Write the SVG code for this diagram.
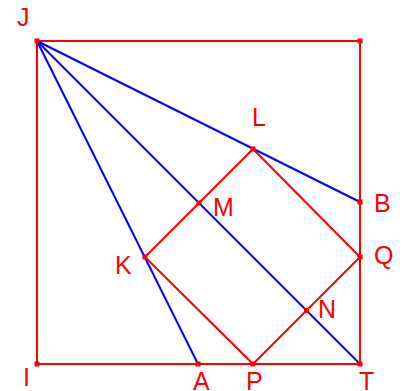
<svg xmlns="http://www.w3.org/2000/svg" width="404" height="391" viewBox="0 0 404 391">
<style>
.r{stroke:#ff0000;stroke-width:2;fill:none}
.b{stroke:#0000ff;stroke-width:2;fill:none}
.pt{fill:#ff0000}
text{font-family:"Liberation Sans",Arial,sans-serif;font-size:25px;fill:#ff0000}
</style>
<rect width="404" height="391" fill="#ffffff"/>
<g id="connectors">
<path class="r" d="M37,41 L360,41 L360,364 L37,364 Z"/>
<line class="b" x1="37" y1="41" x2="198" y2="364"/>
<line class="b" x1="37" y1="41" x2="360" y2="364"/>
<line class="b" x1="37" y1="41" x2="360" y2="202"/>
<path class="r" d="M145,257 L253,149 L360,257 L253,364 Z"/>
</g>
<g id="J"><rect class="pt" x="34.5" y="38.5" width="5" height="5"/><text x="17" y="26">J</text></g>
<g id="corner"><rect class="pt" x="357.5" y="38.5" width="5" height="5"/></g>
<g id="I"><rect class="pt" x="34.5" y="361.5" width="5" height="5"/><text x="23" y="386">I</text></g>
<g id="A"><rect class="pt" x="195.5" y="361.5" width="5" height="5"/><text x="193" y="390">A</text></g>
<g id="P"><rect class="pt" x="250.5" y="361.5" width="5" height="5"/><text x="246" y="390">P</text></g>
<g id="T"><rect class="pt" x="357.5" y="361.5" width="5" height="5"/><text x="359" y="390">T</text></g>
<g id="N"><rect class="pt" x="304" y="308" width="5" height="5"/><text x="318" y="318">N</text></g>
<g id="Q"><rect class="pt" x="357.5" y="254.5" width="5" height="5"/><text x="374" y="264">Q</text></g>
<g id="B"><rect class="pt" x="357.5" y="199.5" width="5" height="5"/><text x="374" y="212">B</text></g>
<g id="L"><rect class="pt" x="250.5" y="146.5" width="5" height="5"/><text x="252" y="126">L</text></g>
<g id="M"><rect class="pt" x="196.5" y="200.5" width="5" height="5"/><text x="213" y="216">M</text></g>
<g id="K"><rect class="pt" x="142.5" y="254.5" width="5" height="5"/><text x="115" y="274">K</text></g>
</svg>
